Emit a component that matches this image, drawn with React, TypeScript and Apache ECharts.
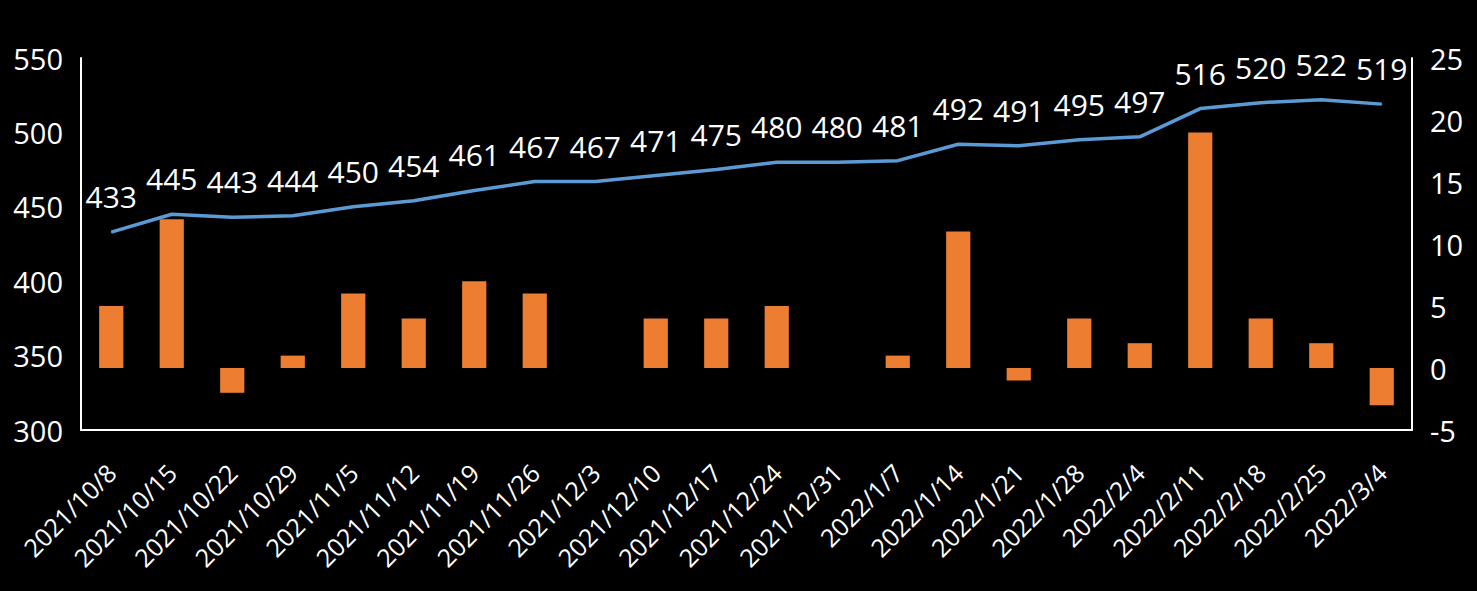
import React, { useEffect, useRef } from "react";
import * as echarts from "echarts";

const categories = [
  "2021/10/8", "2021/10/15", "2021/10/22", "2021/10/29", "2021/11/5", "2021/11/12",
  "2021/11/19", "2021/11/26", "2021/12/3", "2021/12/10", "2021/12/17", "2021/12/24",
  "2021/12/31", "2022/1/7", "2022/1/14", "2022/1/21", "2022/1/28", "2022/2/4",
  "2022/2/11", "2022/2/18", "2022/2/25", "2022/3/4",
];
const lineValues = [433, 445, 443, 444, 450, 454, 461, 467, 467, 471, 475, 480, 480, 481, 492, 491, 495, 497, 516, 520, 522, 519];
const barValues = [5, 12, -2, 1, 6, 4, 7, 6, 0, 4, 4, 5, 0, 1, 11, -1, 4, 2, 19, 4, 2, -3];

const FONT = "Open Sans";

export default function App() {
  const ref = useRef<HTMLDivElement>(null);
  useEffect(() => {
    if (!ref.current) return;
    const chart = echarts.init(ref.current, undefined, { renderer: "svg" });
    chart.setOption({
      animation: false,
      backgroundColor: "#000000",
      textStyle: { fontFamily: FONT },
      grid: { left: 81, right: 65, top: 58, bottom: 161, containLabel: false },
      xAxis: {
        type: "category",
        data: categories,
        axisLine: { show: true, onZero: false, lineStyle: { color: "#ffffff", width: 2 } },
        axisTick: { show: false },
        axisLabel: { color: "#ffffff", fontSize: 25, rotate: 45, margin: 38, interval: 0, fontFamily: FONT },
        splitLine: { show: false },
      },
      yAxis: [
        {
          type: "value",
          min: 300,
          max: 550,
          interval: 50,
          position: "left",
          axisLine: { show: true, lineStyle: { color: "#ffffff", width: 2 } },
          axisTick: { show: false },
          splitLine: { show: false },
          axisLabel: { color: "#ffffff", fontSize: 29, margin: 18, fontFamily: FONT },
        },
        {
          type: "value",
          min: -5,
          max: 25,
          interval: 5,
          position: "right",
          axisLine: { show: true, lineStyle: { color: "#ffffff", width: 2 } },
          axisTick: { show: false },
          splitLine: { show: false },
          axisLabel: { color: "#ffffff", fontSize: 29, margin: 18, fontFamily: FONT },
        },
      ],
      series: [
        {
          type: "bar",
          yAxisIndex: 1,
          data: barValues,
          barWidth: "40%",
          itemStyle: { color: "#ED7D31" },
          z: 1,
        },
        {
          type: "line",
          yAxisIndex: 0,
          data: lineValues,
          symbol: "circle",
          symbolSize: 1,
          showSymbol: true,
          itemStyle: { color: "#5B9BD5" },
          lineStyle: { color: "#5B9BD5", width: 3.5 },
          label: {
            show: true,
            position: "top",
            distance: 20,
            color: "#ffffff",
            fontSize: 30,
            fontFamily: FONT,
          },
          labelLayout: { hideOverlap: false },
          z: 2,
        },
      ],
    });
    return () => chart.dispose();
  }, []);
  return <div ref={ref} style={{ width: 1477, height: 591, position: "absolute", left: 0, top: 0 }} />;
}
